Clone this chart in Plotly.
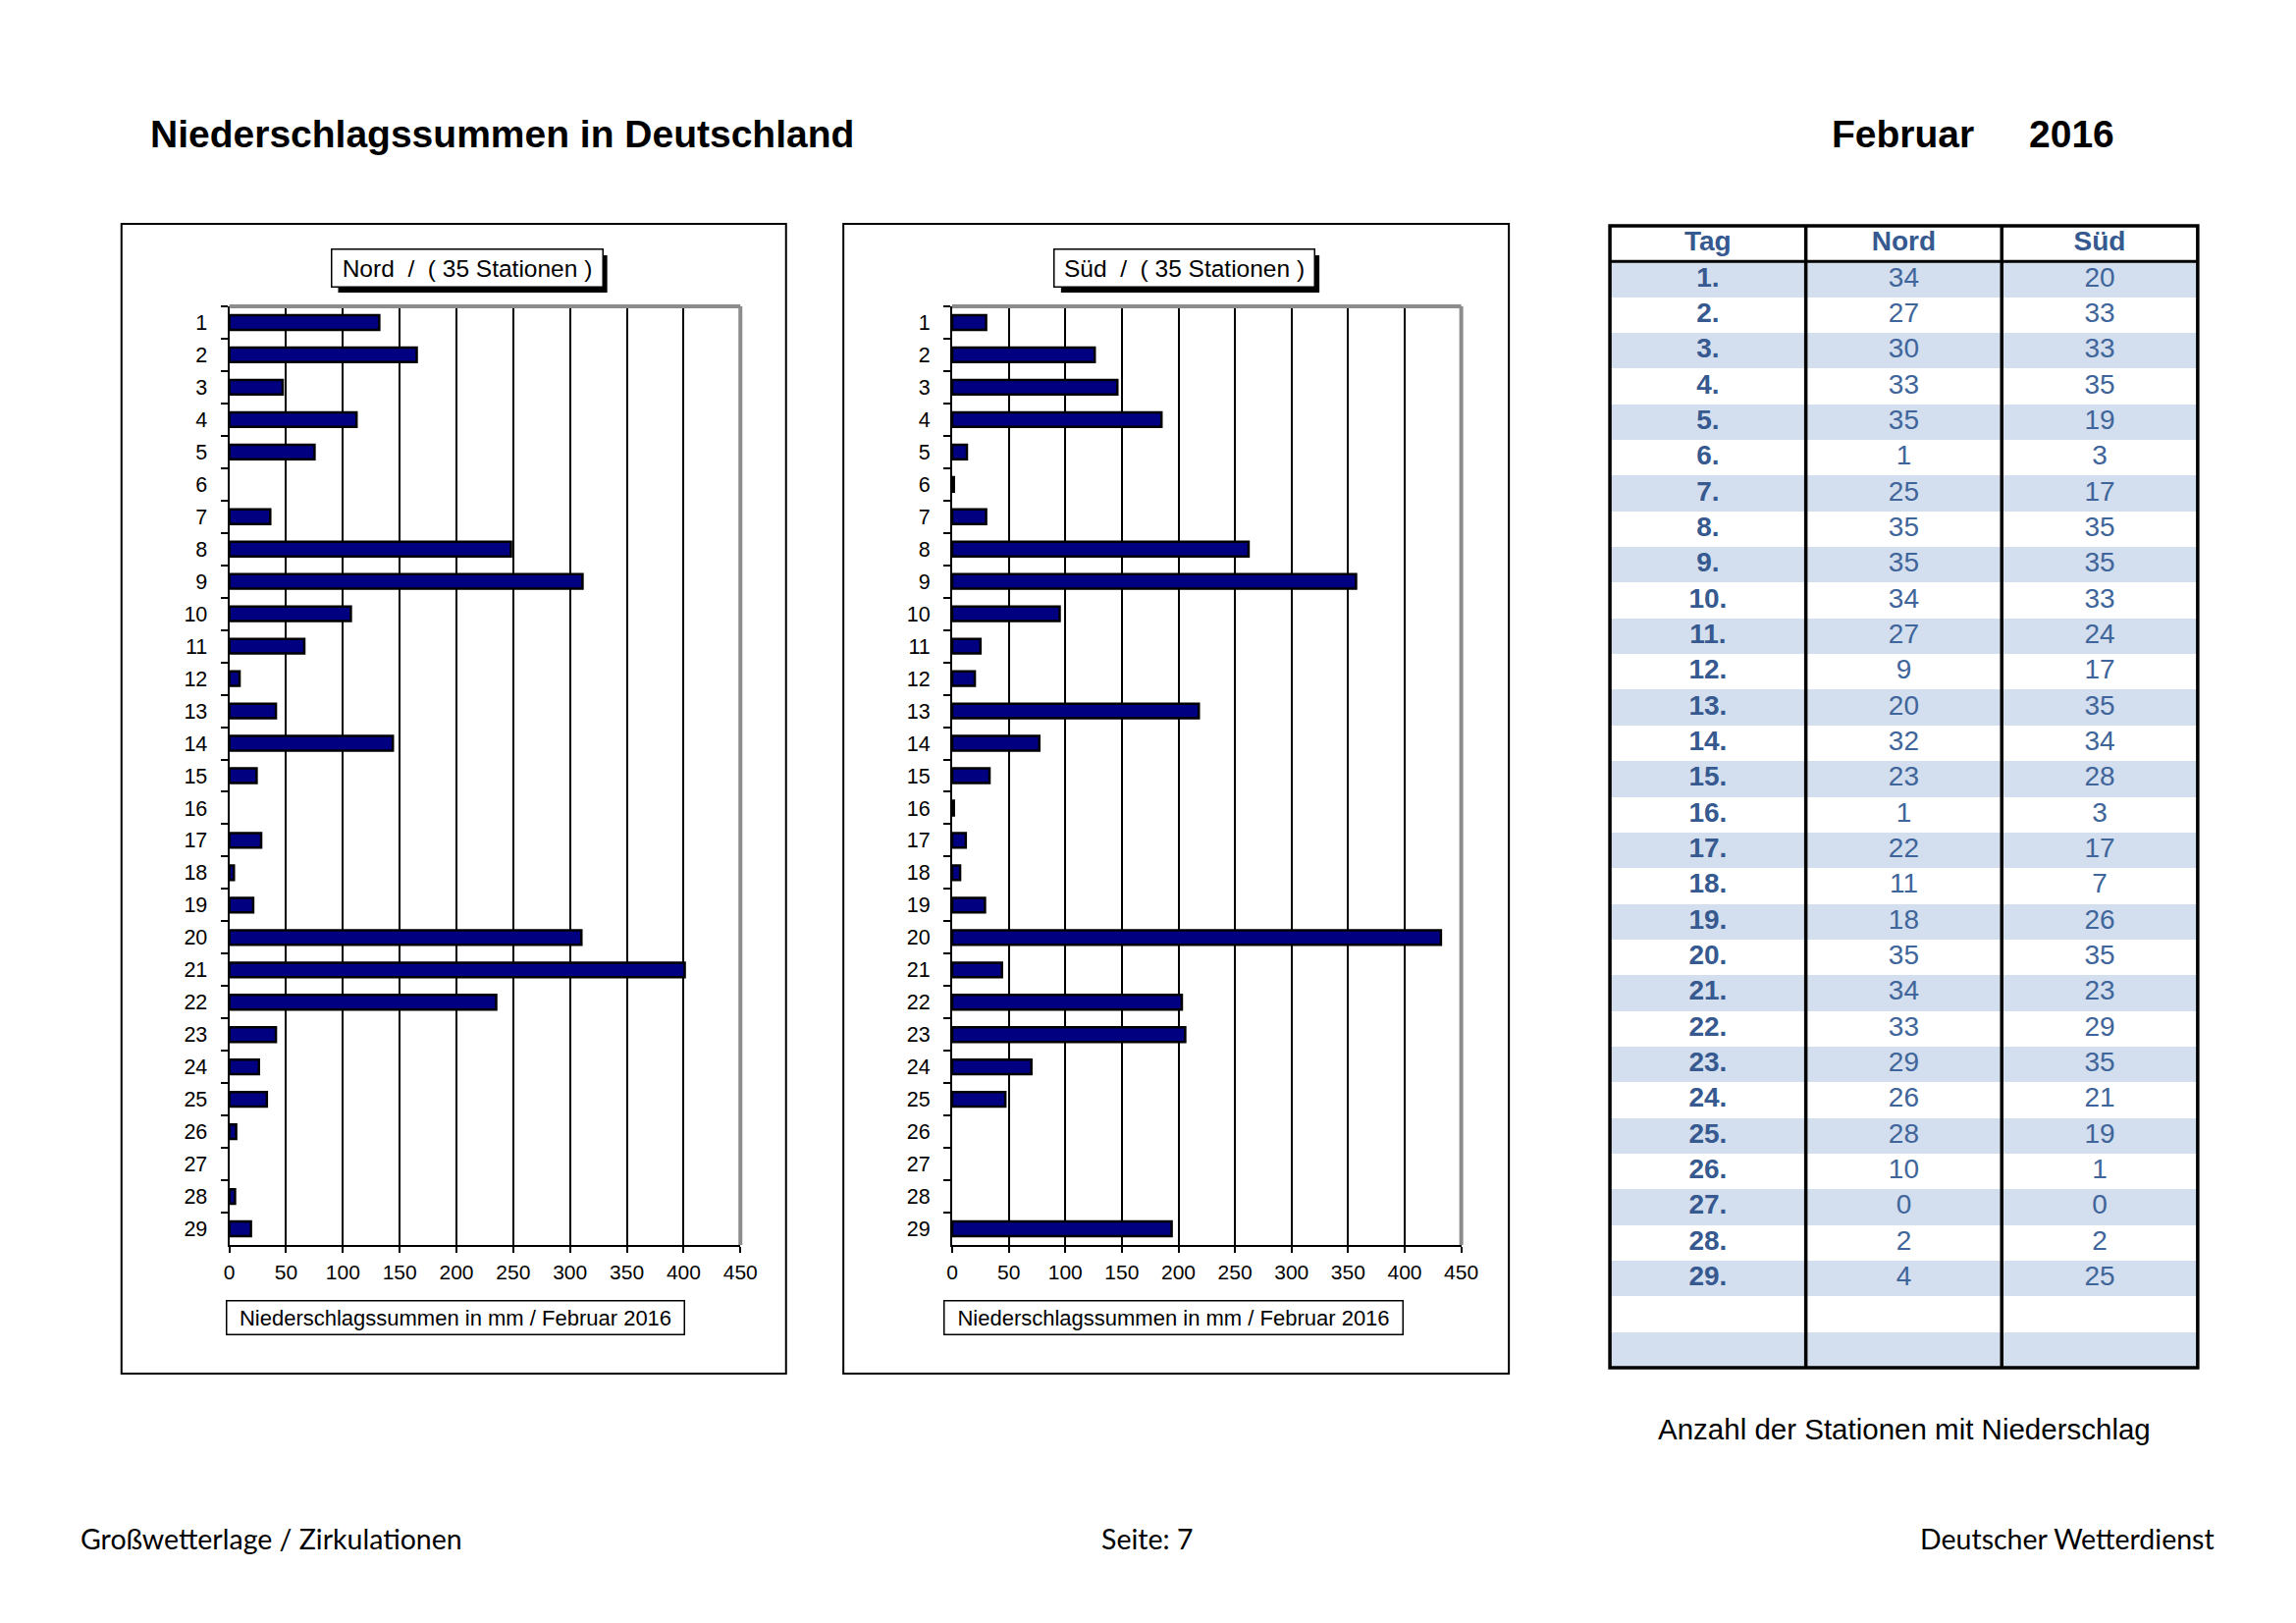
import plotly.graph_objects as go

# ---------------- data ----------------
days = [str(i) for i in range(1, 30)]
nord_mm = [132, 165, 47, 112, 75, 0, 36, 248, 311, 107, 66, 9, 41, 144, 24, 0,
           28, 4, 21, 310, 401, 235, 41, 26, 33, 6, 0, 5, 19]
sued_mm = [30, 126, 146, 185, 13, 1.5, 30, 262, 357, 95, 25, 20, 218, 77, 33, 1.5,
           12, 7, 29, 432, 44, 203, 206, 70, 47, 0, 0, 0, 194]
nord_count = [34, 27, 30, 33, 35, 1, 25, 35, 35, 34, 27, 9, 20, 32, 23, 1, 22, 11,
              18, 35, 34, 33, 29, 26, 28, 10, 0, 2, 4]
sued_count = [20, 33, 33, 35, 19, 3, 17, 35, 35, 33, 24, 17, 35, 34, 28, 3, 17, 7,
              26, 35, 23, 29, 35, 21, 19, 1, 0, 2, 25]
x_ticks = [0, 50, 100, 150, 200, 250, 300, 350, 400, 450]
table_header = ["Tag", "Nord", "Süd"]
blank_rows = ["e1", "e2"]

# ---------------- page geometry ----------------
W, H = 2339, 1653
def px(x):
    return x / W
def py(y):
    return 1 - y / H

FONT = "Liberation Sans"
BLUE = "#36598F"
BLUE2 = "#40659A"
STRIPE = "#D3DEEE"
BEIGE = "#FDF1DA"

fig = go.Figure()

for i, vals in enumerate([nord_mm, sued_mm]):
    sfx = "" if i == 0 else "2"
    fig.add_trace(go.Bar(
        y=days, x=vals, orientation="h",
        xaxis="x" + sfx, yaxis="y" + sfx,
        width=0.45,
        marker=dict(color="#000080",
                    line=dict(color="black", width=[2.5 if v > 0 else 0 for v in vals])),
        hoverinfo="x+y",
    ))

# ---------------- table (drawn on its own category axes) ----------------
row_keys = ["hdr"] + days + blank_rows
n_rows = len(row_keys)
stripe_z = [[0, 0, 0]] + [[1 - (r % 2)] * 3 for r in range(len(days) + len(blank_rows))]
fig.add_trace(go.Heatmap(
    x=table_header, y=row_keys, z=stripe_z, xaxis="x3", yaxis="y3",
    colorscale=[[0, "white"], [1, STRIPE]], zmin=0, zmax=1, showscale=False,
    hoverinfo="skip",
))
col_text = [
    ["<b>%s.</b>" % d for d in days],
    [str(v) for v in nord_count],
    [str(v) for v in sued_count],
]
for col, vals in zip(table_header, col_text):
    fig.add_trace(go.Scatter(
        x=[col] * (len(vals) + 1), y=["hdr"] + days,
        text=["<b>%s</b>" % col] + vals, mode="text",
        textposition="middle center", xaxis="x3", yaxis="y3",
        textfont=dict(family=FONT, size=28,
                      color=[BLUE] + [BLUE2 if col != "Tag" else BLUE] * len(vals)),
        hoverinfo="skip",
    ))

t_left, t_right, t_top, t_bot = 1651, 2256, 230, 1393

# ---------------- axes ----------------
def xax(l, r, anchor):
    return dict(domain=[px(l), px(r)], anchor=anchor, range=[0, 450],
                tickvals=x_ticks, ticks="outside", ticklen=6, tickwidth=2,
                tickcolor="black", showgrid=True, gridcolor="black", gridwidth=1.5,
                showline=True, linecolor="black", linewidth=2, zeroline=False,
                ticklabelstandoff=2,
                tickfont=dict(family=FONT, size=21, color="black"), fixedrange=True)

def yax(anchor):
    return dict(domain=[py(1268), py(312)], anchor=anchor, type="category",
                autorange="reversed", tickson="boundaries", ticks="outside",
                ticklen=7, tickwidth=2, tickcolor="black", showgrid=False,
                showline=True, linecolor="black", linewidth=2,
                ticklabelstandoff=16,
                tickfont=dict(family=FONT, size=21.5, color="black"), fixedrange=True)

shapes = []
# outer chart boxes
for l, r in [(119, 803), (862, 1547)]:
    shapes.append(dict(type="rect", xref="paper", yref="paper", layer="below",
                       x0=px(l), x1=px(r), y0=py(1399), y1=py(228),
                       line=dict(color="black", width=2), fillcolor="white"))
# gray plot border top/right
for sfx in ["", "2"]:
    xr, yr = "x%s domain" % sfx, "y%s domain" % sfx
    shapes.append(dict(type="line", xref=xr, yref=yr, x0=0, x1=1, y0=1, y1=1,
                       line=dict(color="#8C8C8C", width=4), layer="above"))
    shapes.append(dict(type="line", xref=xr, yref=yr, x0=1, x1=1, y0=0, y1=1,
                       line=dict(color="#8C8C8C", width=4), layer="above"))
# title boxes (name, left, right)
title_boxes = [("Nord", 336, 613), ("Süd", 1080, 1346)]
for _, l, r in title_boxes:
    shapes.append(dict(type="rect", xref="paper", yref="paper", layer="above",
                       x0=px(l + 6), x1=px(r + 6), y0=py(298), y1=py(260),
                       line=dict(width=0), fillcolor="black"))
# table lines
shapes.append(dict(type="rect", xref="x3 domain", yref="y3 domain", layer="above",
                   x0=0, x1=1, y0=0, y1=1, line=dict(color="black", width=3.5)))
for vx in [1 / 3, 2 / 3]:
    shapes.append(dict(type="line", xref="x3 domain", yref="y3 domain", layer="above",
                       x0=vx, x1=vx, y0=0, y1=1, line=dict(color="black", width=3.5)))
shapes.append(dict(type="line", xref="x3 domain", yref="y3 domain", layer="above",
                   x0=0, x1=1, y0=1 - 1 / n_rows, y1=1 - 1 / n_rows,
                   line=dict(color="black", width=3)))

ann = []
def text(x, y, s, size, xanchor="left", bold=False, family=FONT, color="black"):
    ann.append(dict(x=px(x), y=py(y), xref="paper", yref="paper", showarrow=False,
                    text=("<b>%s</b>" % s) if bold else s, xanchor=xanchor,
                    yanchor="middle", font=dict(family=family, size=size, color=color)))

text(146, 137, "Niederschlagssummen in Deutschland", 39, bold=True)
text(1877, 137, "Februar", 39, bold=True)
text(2080, 137, "2016", 39, bold=True)
text(1954, 1455, "Anzahl der Stationen mit Niederschlag", 29.5, xanchor="center")
text(75, 1567, "Großwetterlage / Zirkulationen", 28.5, family="Lato")
text(1175, 1567, "Seite: 7", 28.5, xanchor="center", family="Lato")
text(2275, 1567, "Deutscher Wetterdienst", 28.5, xanchor="right", family="Lato")

NB = "\u00a0"
for name, l, r in title_boxes:
    ann.append(dict(x=px((l + r) / 2), y=py(273), xref="paper", yref="paper", showarrow=False,
                    text=name + NB * 2 + "/" + NB * 2 + "(" + NB + "35 Stationen" + NB + ")",
                    xanchor="center", yanchor="middle", width=r - l - 8, height=31,
                    bgcolor="white", bordercolor="black", borderwidth=1.5, borderpad=3,
                    font=dict(family=FONT, size=24.5, color="black")))
for l, r in [(229, 696), (968, 1436)]:
    ann.append(dict(x=px((l + r) / 2), y=py(1342), xref="paper", yref="paper", showarrow=False,
                    text="Niederschlagssummen in mm / Februar 2016",
                    xanchor="center", yanchor="middle", width=r - l - 8, height=27,
                    bgcolor="white", bordercolor="black", borderwidth=1.5, borderpad=3,
                    font=dict(family=FONT, size=22, color="black")))

fig.update_layout(
    width=W, height=H, margin=dict(l=0, r=0, t=0, b=0),
    paper_bgcolor="white", plot_bgcolor=BEIGE, showlegend=False,
    xaxis=xax(230, 756, "y"), yaxis=yax("x"),
    xaxis2=xax(974, 1498, "y2"), yaxis2=yax("x2"),
    xaxis3=dict(domain=[px(t_left), px(t_right)], anchor="y3", type="category",
                range=[-0.5, 2.5], showgrid=False, zeroline=False, showline=False,
                showticklabels=False, ticks="", fixedrange=True),
    yaxis3=dict(domain=[py(t_bot), py(t_top)], anchor="x3", type="category",
                categoryorder="array", categoryarray=row_keys,
                range=[n_rows - 0.5, -0.5], showgrid=False, zeroline=False,
                showline=False, showticklabels=False, ticks="", fixedrange=True),
    shapes=shapes, annotations=ann, bargap=0.55,
)

fig.write_html("out.html", config={"displayModeBar": False},
               post_script="document.body.style.margin='0px';document.body.style.overflow='hidden';")
